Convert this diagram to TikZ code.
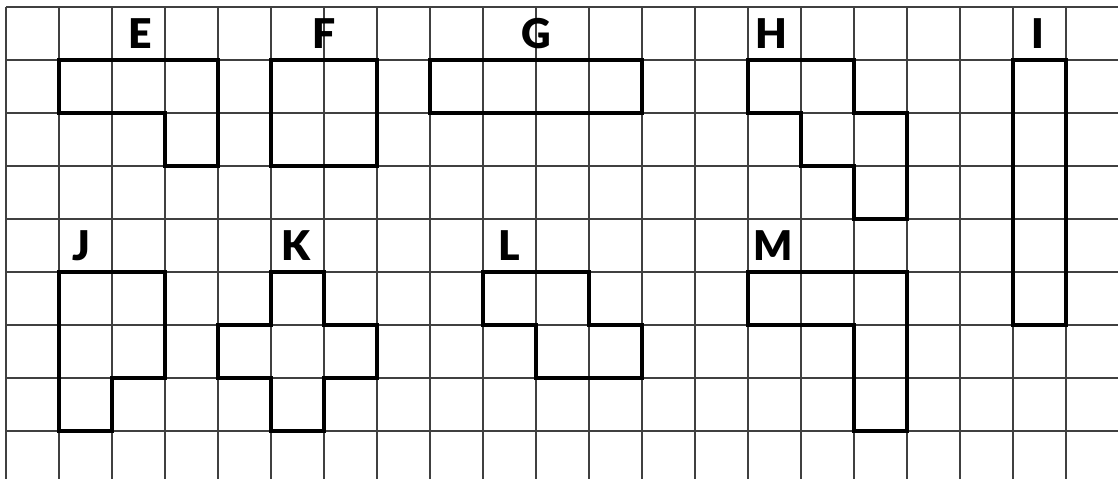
\documentclass[tikz,border=0pt]{standalone}
\usepackage{fontspec}
\newfontfamily\lblfont{Lato Black}
\usetikzlibrary{positioning}
\tikzset{
  gridline/.style={black!75, line width=0.7pt},
  piece/.style={draw, line width=2.15pt, line join=miter},
  lbl/.style={anchor=base, inner sep=0pt, font=\lblfont\fontsize{22}{22}\selectfont}
}
\begin{document}
\begin{tikzpicture}[x=1cm, y=1cm]
\useasboundingbox (-0.113,0.132) rectangle (20.981,-8.906);
% grid
\foreach \c in {0,...,20} \draw[gridline] (\c,0) -- (\c,-8.906);
\foreach \r in {0,...,8} \draw[gridline] (0,-\r) -- (20.981,-\r);
% pieces
\draw[piece] (1,-1) -- (4,-1) -- (4,-3) -- (3,-3) -- (3,-2) -- (1,-2) -- cycle;
\draw[piece] (5,-1) rectangle (7,-3);
\draw[piece] (8,-1) rectangle (12,-2);
\draw[piece] (14,-1) -- (16,-1) -- (16,-2) -- (17,-2) -- (17,-4) -- (16,-4) -- (16,-3) -- (15,-3) -- (15,-2) -- (14,-2) -- cycle;
\draw[piece] (19,-1) rectangle (20,-6);
\draw[piece] (1,-5) -- (3,-5) -- (3,-7) -- (2,-7) -- (2,-8) -- (1,-8) -- cycle;
\draw[piece] (5,-5) -- (6,-5) -- (6,-6) -- (7,-6) -- (7,-7) -- (6,-7) -- (6,-8) -- (5,-8) -- (5,-7) -- (4,-7) -- (4,-6) -- (5,-6) -- cycle;
\draw[piece] (9,-5) -- (11,-5) -- (11,-6) -- (12,-6) -- (12,-7) -- (10,-7) -- (10,-6) -- (9,-6) -- cycle;
\draw[piece] (14,-5) -- (17,-5) -- (17,-8) -- (16,-8) -- (16,-6) -- (14,-6) -- cycle;
% labels
\node[lbl] (labE) at (2.53,-0.775) {E};
\node[lbl] (labF) at (6.0,-0.775) {F};
\node[lbl] (labG) at (10.0,-0.775) {G};
\node[lbl] (labH) at (14.45,-0.775) {H};
\node[lbl] (labI) at (19.47,-0.775) {I};
\node[lbl] (labJ) at (1.43,-4.775) {J};
\node[lbl] (labK) at (5.48,-4.775) {K};
\node[lbl] (labL) at (9.49,-4.775) {L};
\node[lbl] (labM) at (14.47,-4.775) {M};
\end{tikzpicture}
\end{document}
